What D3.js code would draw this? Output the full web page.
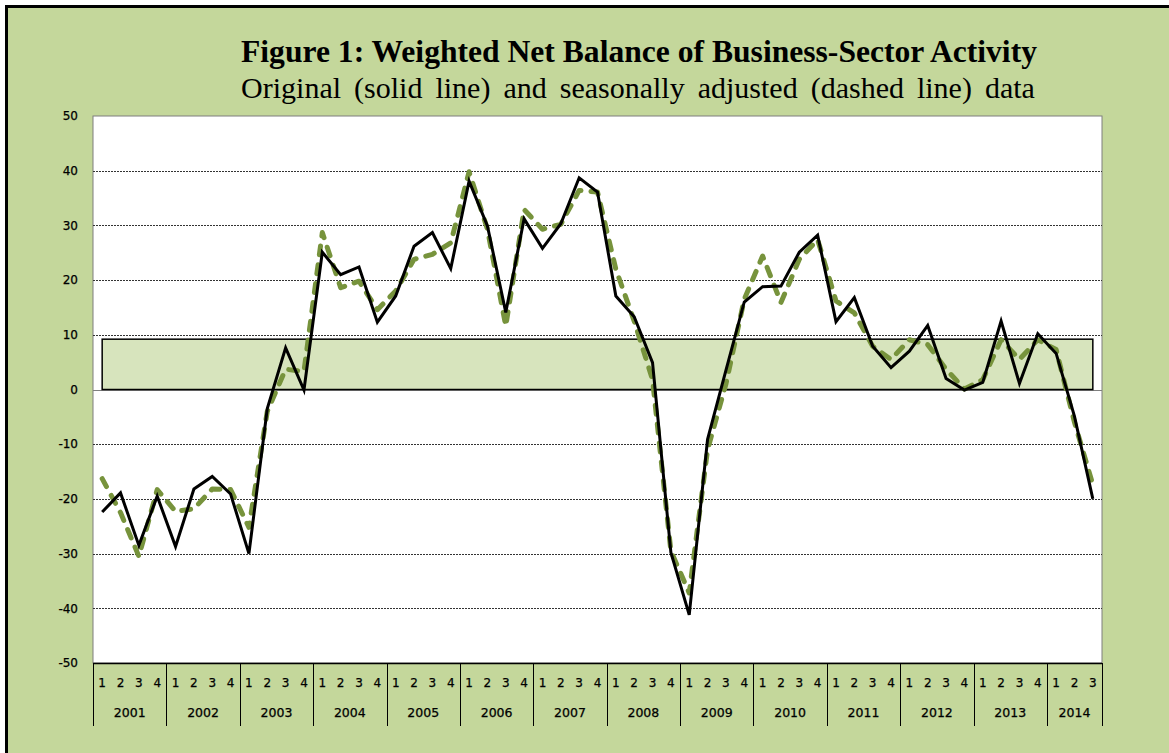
<!DOCTYPE html>
<html>
<head>
<meta charset="utf-8">
<script src="https://cdn.jsdelivr.net/npm/d3@7"></script>
<style>
    html, body { margin: 0; padding: 0; background: #fff; }
    svg { display: block; }
</style>
</head>
<body>
<div id="chart"></div>
<script>
// 年份与季度
const years = [2001, 2002, 2003, 2004, 2005, 2006, 2007, 2008, 2009, 2010, 2011, 2012, 2013, 2014];
const quartersPerYear = [4, 4, 4, 4, 4, 4, 4, 4, 4, 4, 4, 4, 4, 3];

// 原始数据 (实线)
const original = [-22.4, -18.9, -28.5, -19.5, -28.7, -18.2, -15.9, -19.1, -30.0, -3.5, 7.6, -0.1,
    25.1, 21.0, 22.4, 12.3, 17.1, 26.2, 28.7, 22.1, 38.1, 29.9, 14.1, 31.2, 25.8, 30.3, 38.7, 36.1,
    17.1, 13.3, 4.9, -29.8, -41.2, -9.1, 3.5, 16.0, 18.8, 18.9, 25.1, 28.2, 12.4, 16.8, 7.9, 4.0,
    7.0, 11.7, 2.0, -0.1, 1.3, 12.5, 1.1, 10.2, 6.6, -4.9, -20.0];

// 季节调整数据 (虚线)
const adjusted = [-16.3, -22.5, -30.5, -18.3, -22.3, -21.8, -18.2, -18.3, -25.2, -4.0, 3.7, 3.3,
    28.7, 18.6, 19.8, 14.6, 18.0, 23.8, 24.7, 26.8, 39.8, 29.3, 11.6, 32.9, 29.3, 30.2, 36.4, 36.1,
    22.0, 12.5, 1.8, -29.5, -37.2, -11.0, 1.0, 16.5, 24.4, 15.9, 23.8, 27.4, 16.2, 14.0, 7.9, 5.5,
    9.1, 8.2, 3.7, 0.1, 1.8, 9.1, 5.5, 9.1, 7.3, -6.0, -17.4];

// 正常区间带
const normalBand = [0, 9.2];

// Y轴刻度
const yTicks = [-50, -40, -30, -20, -10, 0, 10, 20, 30, 40, 50];

// 标题
const titleText = "Figure 1: Weighted Net Balance of Business-Sector Activity";
const subtitleText = "Original (solid line) and seasonally adjusted (dashed line) data";

// 季度键
const quarterKeys = [];
years.forEach((yr, i) => {
    for (let q = 1; q <= quartersPerYear[i]; q++) quarterKeys.push({ key: yr + "-" + q, year: yr, q: q });
});

const W = 1169, H = 753;
const plot = { left: 93, right: 1102, top: 116, bottom: 663 };
const labelFont = '"DejaVu Sans", sans-serif';

const svg = d3.select('#chart').append('svg')
    .attr('width', W)
    .attr('height', H);

// 背景与外框
svg.append('rect').attr('x', 0).attr('y', 0).attr('width', W).attr('height', H).attr('fill', '#fff');
svg.append('rect')
    .attr('x', 6.5).attr('y', 6.5)
    .attr('width', W + 20).attr('height', H + 20)
    .attr('fill', '#c4d79b')
    .attr('stroke', '#000')
    .attr('stroke-width', 3);

// 标题
svg.append('text')
    .attr('x', 639).attr('y', 62)
    .attr('text-anchor', 'middle')
    .style('font-family', '"Liberation Serif", "Times New Roman", serif')
    .style('font-weight', 'bold')
    .style('font-size', '31.6px')
    .text(titleText);

svg.append('text')
    .attr('x', 638).attr('y', 98)
    .attr('text-anchor', 'middle')
    .style('font-family', '"Liberation Serif", "Times New Roman", serif')
    .style('font-size', '30px')
    .style('word-spacing', '5.5px')
    .text(subtitleText);

// 比例尺
const x = d3.scaleBand()
    .domain(quarterKeys.map(d => d.key))
    .range([plot.left, plot.right])
    .paddingInner(0).paddingOuter(0);

const y = d3.scaleLinear()
    .domain([-50, 50])
    .range([plot.bottom, plot.top]);

const cx = k => x(k) + x.bandwidth() / 2;

// 绘图区
svg.append('rect')
    .attr('x', plot.left).attr('y', plot.top)
    .attr('width', plot.right - plot.left).attr('height', plot.bottom - plot.top)
    .attr('fill', '#fff')
    .attr('stroke', '#7f7f7f')
    .attr('stroke-width', 1);

// 网格线
svg.append('g')
    .selectAll('line')
    .data(yTicks.filter(t => t !== -50 && t !== 50 && t !== 0))
    .enter()
    .append('line')
    .attr('x1', plot.left).attr('x2', plot.right)
    .attr('y1', d => Math.round(y(d)) + 0.5).attr('y2', d => Math.round(y(d)) + 0.5)
    .attr('stroke', '#333')
    .attr('stroke-width', 1)
    .attr('stroke-dasharray', '2,1');

svg.append('line')
    .attr('x1', plot.left).attr('x2', plot.right)
    .attr('y1', Math.round(y(0)) + 0.5).attr('y2', Math.round(y(0)) + 0.5)
    .attr('stroke', '#7f7f7f')
    .attr('stroke-width', 1);

// 正常区间带
const first = quarterKeys[0].key, last = quarterKeys[quarterKeys.length - 1].key;
svg.append('rect')
    .attr('x', cx(first))
    .attr('y', y(normalBand[1]))
    .attr('width', cx(last) - cx(first))
    .attr('height', y(normalBand[0]) - y(normalBand[1]))
    .attr('fill', '#d7e4bd')
    .attr('stroke', '#000')
    .attr('stroke-width', 1.5);

// Y轴标签
svg.append('g')
    .selectAll('text')
    .data(yTicks)
    .enter()
    .append('text')
    .attr('x', 78)
    .attr('y', d => y(d))
    .attr('dy', '0.35em')
    .attr('text-anchor', 'end')
    .style('font-family', labelFont)
    .style('font-size', '12px')
    .style('stroke', '#000')
    .style('stroke-width', '0.25px')
    .text(d => d);

// 折线
const line = d3.line()
    .x((d, i) => cx(quarterKeys[i].key))
    .y(d => y(d));

svg.append('path')
    .datum(adjusted)
    .attr('d', line)
    .attr('fill', 'none')
    .attr('stroke', '#77933c')
    .attr('stroke-width', 5)
    .attr('stroke-linecap', 'round')
    .attr('stroke-linejoin', 'round')
    .attr('stroke-dasharray', '9,10');

svg.append('path')
    .datum(original)
    .attr('d', line)
    .attr('fill', 'none')
    .attr('stroke', '#000')
    .attr('stroke-width', 3)
    .attr('stroke-linejoin', 'miter');

// X轴 (季度 + 年份)
const axisG = svg.append('g');
axisG.append('line')
    .attr('x1', plot.left).attr('x2', plot.right)
    .attr('y1', plot.bottom + 0.5).attr('y2', plot.bottom + 0.5)
    .attr('stroke', '#000').attr('stroke-width', 1.5);

axisG.selectAll('.qlabel')
    .data(quarterKeys)
    .enter()
    .append('text')
    .attr('class', 'qlabel')
    .attr('x', d => cx(d.key))
    .attr('y', 683)
    .attr('dy', '0.35em')
    .attr('text-anchor', 'middle')
    .style('font-family', labelFont)
    .style('font-size', '12px')
    .style('stroke', '#000')
    .style('stroke-width', '0.25px')
    .text(d => d.q);

const yearGroups = years.map((yr, i) => {
    const ks = quarterKeys.filter(d => d.year === yr);
    return { year: yr, x0: x(ks[0].key), x1: x(ks[ks.length - 1].key) + x.bandwidth() };
});

axisG.selectAll('.sep')
    .data(yearGroups.map(g => g.x0).concat([plot.right]))
    .enter()
    .append('line')
    .attr('x1', d => Math.round(d) + 0.5).attr('x2', d => Math.round(d) + 0.5)
    .attr('y1', plot.bottom).attr('y2', 726)
    .attr('stroke', '#000').attr('stroke-width', 1);

axisG.selectAll('.ylabel')
    .data(yearGroups)
    .enter()
    .append('text')
    .attr('x', d => (d.x0 + d.x1) / 2)
    .attr('y', 713)
    .attr('dy', '0.35em')
    .attr('text-anchor', 'middle')
    .style('font-family', labelFont)
    .style('font-size', '12.5px')
    .style('stroke', '#000')
    .style('stroke-width', '0.25px')
    .text(d => d.year);
</script>
</body>
</html>
